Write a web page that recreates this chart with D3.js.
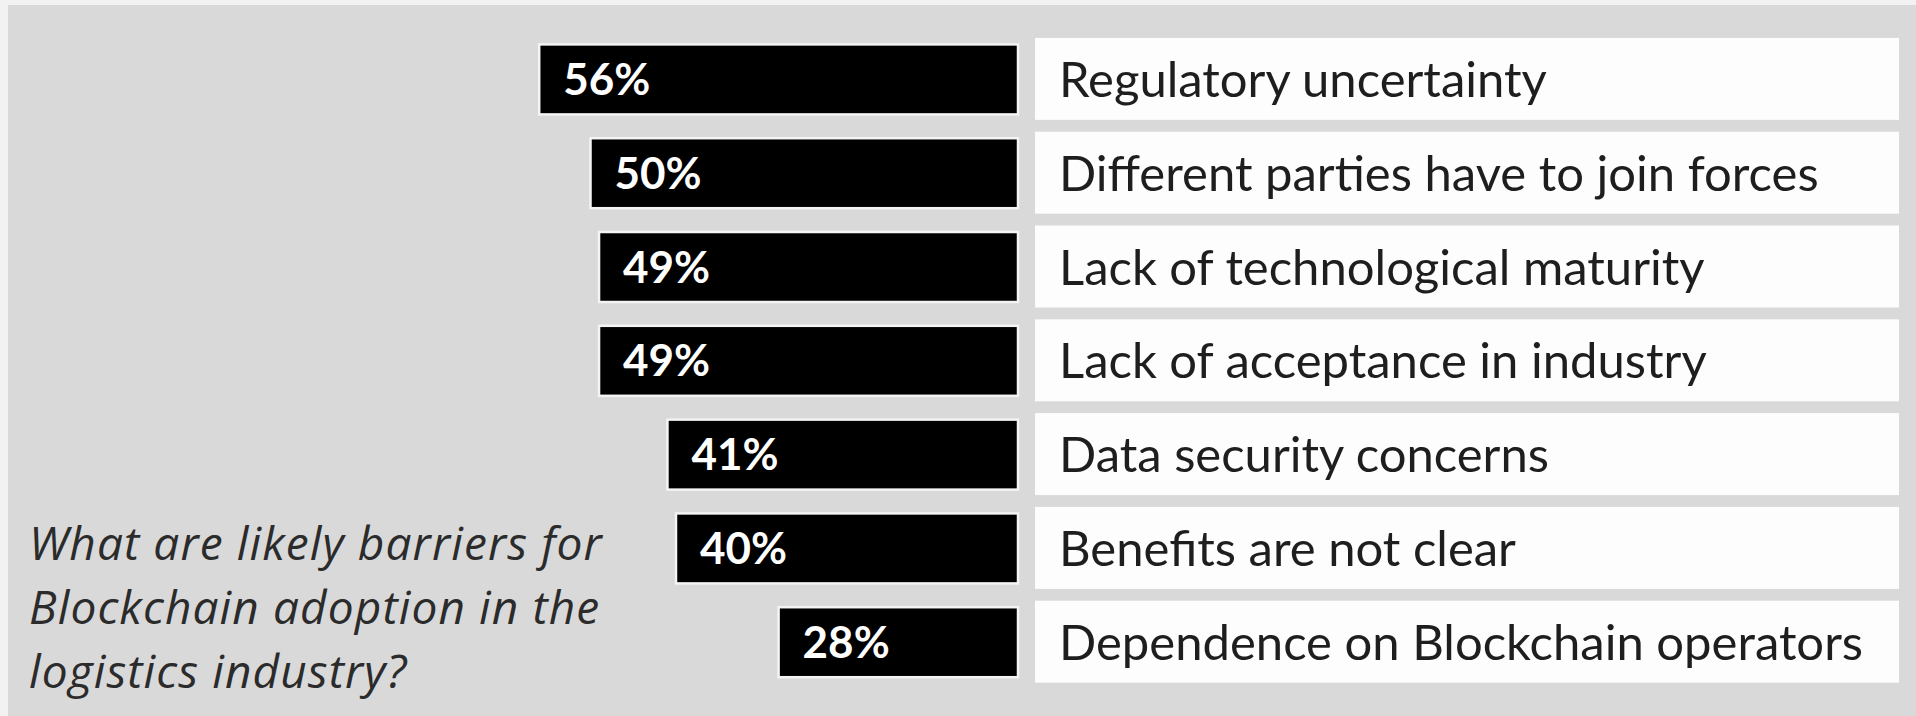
<!DOCTYPE html>
<html>
<head>
<meta charset="utf-8">
<script src="https://d3js.org/d3.v7.min.js"></script>
<style>
    body { margin: 0; background: #f2f2f2; }
    .label { font-family: Lato, "Open Sans", sans-serif; font-size: 49px; fill: #1e1e1e; }
    .pct { font-family: Lato, "Open Sans", sans-serif; font-weight: bold; font-size: 44px; fill: #ffffff; }
    .question { font-family: "Open Sans", Lato, sans-serif; font-style: italic; font-size: 46px; letter-spacing: 1.1px; fill: #2b2b2b; }
</style>
</head>
<body>
<svg id="chart" width="1916" height="716"></svg>
<script>
    // survey answers, top to bottom
    const categories = [
        "Regulatory uncertainty",
        "Different parties have to join forces",
        "Lack of technological maturity",
        "Lack of acceptance in industry",
        "Data security concerns",
        "Benefits are not clear",
        "Dependence on Blockchain operators"
    ];
    const values = [56, 50, 49, 49, 41, 40, 28];
    const questionLines = [
        "What are likely barriers for",
        "Blockchain adoption in the",
        "logistics industry?"
    ];

    const svg = d3.select("#chart");
    const width = +svg.attr("width");
    const height = +svg.attr("height");

    // panel background
    svg.append("rect").attr("width", width).attr("height", height).attr("fill", "#f2f2f2");
    svg.append("rect").attr("x", 8).attr("y", 5)
        .attr("width", width - 8).attr("height", height - 5)
        .attr("fill", "#d9d9d9");

    const barRight = 1018;
    const x = d3.scaleLinear().domain([0, 100]).range([0, 855]);
    const y = d3.scaleBand().domain(categories)
        .range([32, 32 + 7 * 93.8])
        .paddingInner(0.126)
        .paddingOuter(0.063);

    const rows = svg.selectAll("g.row")
        .data(categories.map((c, i) => ({ cat: c, val: values[i] })))
        .join("g")
        .attr("class", "row");

    // white label boxes
    rows.append("rect")
        .attr("x", 1035)
        .attr("y", d => y(d.cat))
        .attr("width", 1899 - 1035)
        .attr("height", y.bandwidth())
        .attr("fill", "#fdfdfd");

    rows.append("text")
        .attr("class", "label")
        .attr("x", 1059)
        .attr("y", d => y(d.cat) + y.bandwidth() / 2 + 18)
        .text(d => d.cat);

    // black bars growing to the left
    rows.append("rect")
        .attr("x", d => barRight - x(d.val))
        .attr("y", d => y(d.cat) + 6.5)
        .attr("width", d => x(d.val))
        .attr("height", 70)
        .attr("fill", "#000")
        .attr("stroke", "#f4f4f4")
        .attr("stroke-width", 2.5);

    rows.append("text")
        .attr("class", "pct")
        .attr("x", d => barRight - x(d.val) + 24)
        .attr("y", d => y(d.cat) + y.bandwidth() / 2 + 16)
        .text(d => d.val + "%");

    // question text bottom-left
    svg.append("g").selectAll("text")
        .data(questionLines)
        .join("text")
        .attr("class", "question")
        .attr("x", 29)
        .attr("y", (d, i) => 560 + i * 64)
        .text(d => d);
</script>
</body>
</html>
